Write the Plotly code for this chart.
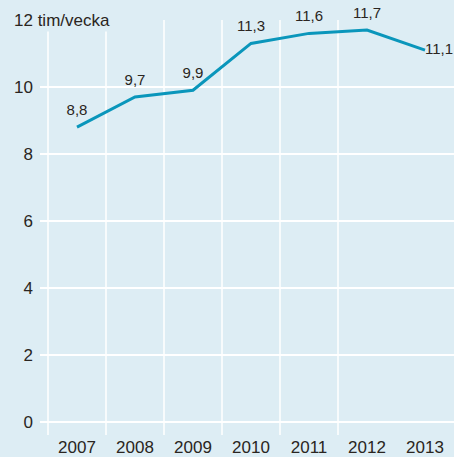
import plotly.graph_objects as go

years = ["2007", "2008", "2009", "2010", "2011", "2012", "2013"]
hours = [8.8, 9.7, 9.9, 11.3, 11.6, 11.7, 11.1]
y_ticks = [0, 2, 4, 6, 8, 10, 12]
y_unit = "tim/vecka"

BG = "#ddedf4"
LINE = "#0a96bb"
TXT = "#2a2521"
FONT = "Liberation Sans, Arial, sans-serif"

xs = list(range(len(years)))
labels = [f"{v:.1f}".replace(".", ",") for v in hours]
positions = ["top center"] * (len(hours) - 1) + ["middle right"]
msizes = [12] * (len(hours) - 1) + [0]

fig = go.Figure()
fig.add_trace(go.Scatter(
    x=xs, y=hours, mode="lines+markers+text", text=labels, textposition=positions,
    textfont=dict(size=15, color=TXT, family=FONT),
    marker=dict(size=msizes, color="rgba(0,0,0,0)", opacity=0,
                line=dict(width=0, color="rgba(0,0,0,0)")),
    line=dict(color=LINE, width=3), cliponaxis=False, hoverinfo="skip",
))

shapes = []
for i in range(len(years) - 1):
    shapes.append(dict(type="line", xref="x", yref="y", x0=i - 0.5, x1=i - 0.5,
                       y0=-0.4, y1=12, line=dict(color="white", width=1.5), layer="below"))

fig.update_layout(
    width=454, height=457,
    margin=dict(l=40, r=0, t=20, b=20),
    paper_bgcolor=BG, plot_bgcolor=BG,
    showlegend=False,
    font=dict(family=FONT, size=17, color=TXT),
    shapes=shapes,
    xaxis=dict(range=[-0.5 - 8 / 58, 6.5], tickvals=xs, ticktext=years,
               showgrid=False, zeroline=False, showline=False, ticks="",
               tickfont=dict(size=17, color=TXT)),
    yaxis=dict(range=[-0.4, 12], tickvals=y_ticks,
               ticktext=[str(t) for t in y_ticks[:-1]] + [""],
               showgrid=True, gridcolor="white", gridwidth=1.5,
               zeroline=False, showline=False, ticks="", ticklabelstandoff=6,
               tickfont=dict(size=17, color=TXT)),
    annotations=[dict(xref="paper", yref="y", x=0, xshift=-28, y=12,
                      xanchor="left", yanchor="middle", showarrow=False,
                      text=f"{y_ticks[-1]} {y_unit}", bgcolor=BG, borderpad=1,
                      font=dict(size=17, color=TXT, family=FONT))],
)

fig.write_html("out.html", config={"displayModeBar": False},
               post_script="document.body.style.margin='0';document.body.style.overflow='hidden';")
